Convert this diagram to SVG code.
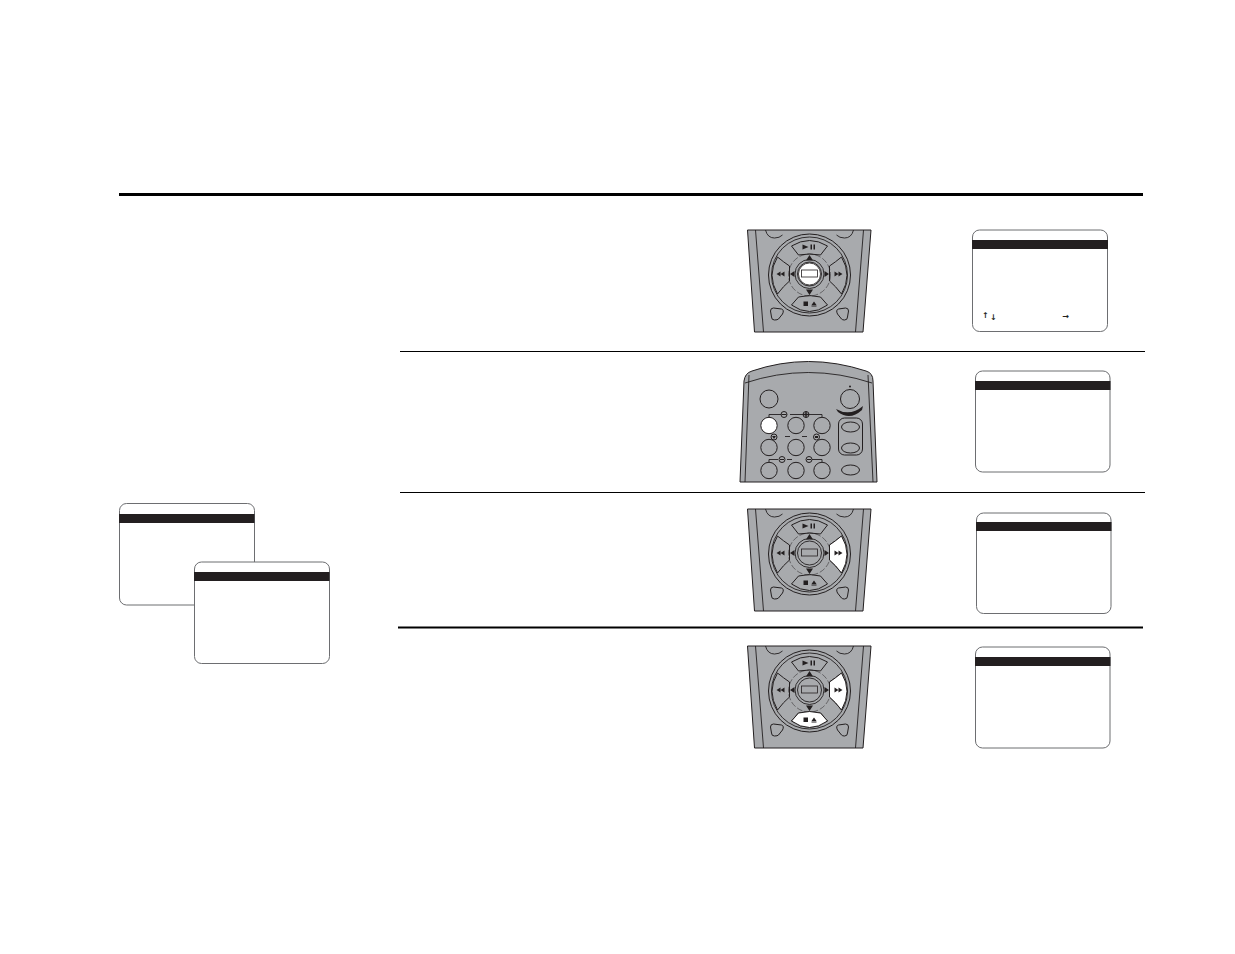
<svg xmlns="http://www.w3.org/2000/svg" width="1235" height="954" viewBox="0 0 1235 954">
<style>
.body{fill:#a8aaad;stroke:#231f20;stroke-width:1}
.ln{fill:none;stroke:#231f20;stroke-width:.9}
.btn{fill:#a8aaad;stroke:#231f20;stroke-width:1;stroke-linejoin:round}
.hi{fill:#fff;stroke:#231f20;stroke-width:1;stroke-linejoin:round}
.ink{fill:#231f20;stroke:none}
.dash{fill:none;stroke:#231f20;stroke-width:.5;stroke-dasharray:6 2}
.scr{fill:#fff;stroke:#6d6e71;stroke-width:1}
.bar{fill:#231f20}
.key{fill:#a8aaad;stroke:#231f20;stroke-width:1}
.rule{stroke:#000;fill:none}
.arw{font-family:"DejaVu Sans",sans-serif;font-size:8px;font-weight:bold;fill:#231f20}
</style>
<defs>
<path id="bR" d="M32,-16 Q43,2 32,21 Q26,13 20,8 L20,-7 Q26,-11 32,-16Z"/>
<path id="bB" d="M-11,24 Q0,21 11,24 L18,32 Q0,45 -18,32Z"/>
<path id="gFF" d="M33,1 L29,-1.500 V3.500Z M29,1 L25,-1.500 V3.500Z"/>
<path id="gSE" d="M-6,28.500 H-1.500 V33 H-6Z M2,32 L4.500,28.500 L7,32Z M2,32.600 H7 V33.500 H2Z"/>
<g id="pad">
<path class="body" d="M-62,-43 L61.500,-43 L53.500,59 L-55,59Z"/>
<path class="ln" d="M-54,-43 L-46,59 M54,-43 L46,59"/>
<path class="ln" d="M-44,-43 Q-42,-35 -35,-35 Q-30,-35 -27,-38 M44,-43 Q42,-35 35,-35 Q30,-35 27,-38"/>
<circle class="body" cy="2" r="41"/>
<circle class="ln" cy="2" r="38"/>
<path class="btn" d="M-18,-27 Q0,-38 18,-27 L11,-18 Q0,-20 -11,-18Z"/>
<path class="btn" d="M-32,-16 Q-43,2 -32,21 Q-26,13 -20,8 L-20,-7 Q-26,-11 -32,-16Z"/>
<use href="#bR" class="btn"/>
<use href="#bB" class="btn"/>
<circle class="dash" cy="2" r="21"/>
<circle class="ln" cy="1" r="14.500"/>
<circle class="ln" cy="1" r="12"/>
<path class="ink" d="M0,-18 L3.500,-12.500 L-3.500,-12.500Z M0,22 L3.500,16.500 L-3.500,16.500Z M-19.500,1 L-15,-2 L-15,4Z M19.500,1 L15,-2 L15,4Z"/>
<path class="ink" d="M-7,-28.500 L-1,-26 L-7,-23.500Z M1,-28.500 H2.500 V-23.500 H1Z M4,-28.500 H5.500 V-23.500 H4Z"/>
<path class="ink" d="M-33,1 L-29,-1.500 V3.500Z M-29,1 L-25,-1.500 V3.500Z"/>
<use href="#gFF" class="ink"/>
<use href="#gSE" class="ink"/>
<path class="btn" d="M-39,38 Q-39,35 -36,35 L-28,36 Q-25,37 -27,41 L-31,46 Q-32,47 -35,47 Q-38,47 -38,44Z"/>
<path class="btn" d="M39,38 Q39,35 36,35 L29,36 Q26,37 28,41 L32,46 Q33,47 35,47 Q38,47 38,44Z"/>
<rect x="-8" y="-3" width="16" height="7" fill="#a8aaad" stroke="#231f20" stroke-width=".8"/>
</g>
</defs>

<g id="rules">
<path class="rule" stroke-width="3" d="M119,194.500H1143"/>
<path class="rule" stroke-width="1" d="M400,351.500H1145"/>
<path class="rule" stroke-width="1" d="M400,492.500H1145"/>
<path class="rule" stroke-width="2" d="M398,627.500H1143"/>
</g>

<g id="screen-a"><rect class="scr" x="119.500" y="503.500" width="135" height="101.500" rx="7"/><rect class="bar" x="119" y="514" width="135.500" height="9"/></g>
<g id="screen-b"><rect class="scr" x="194.500" y="562" width="135" height="101.500" rx="7"/><rect class="bar" x="194" y="572" width="135.500" height="9"/></g>

<g id="panel-1">
<use href="#pad" x="809.500" y="273"/>
<circle cx="809.500" cy="274" r="11" fill="#fff" stroke="#231f20" stroke-width=".8"/>
<rect x="801.500" y="270" width="16" height="7" fill="#fff" stroke="#231f20" stroke-width=".8"/>
</g>
<g id="screen-1"><rect class="scr" x="972.500" y="230" width="135" height="101.500" rx="7"/><rect class="bar" x="972" y="240" width="136" height="9"/>
<text class="arw" x="982" y="318">↑</text><text class="arw" x="990" y="320">↓</text><text class="arw" x="1062.500" y="319">→</text></g>

<g id="panel-2">
<path class="body" d="M740,482 L744,381 Q745,373 752,371 Q808,352 866,371 Q873,373 873,381 L877,482Z"/>
<path class="ln" d="M745,383 Q808,362 872,383 M749,375 L745,482 M868,375 L873,482"/>
<g class="key">
<circle cx="769" cy="399" r="9"/>
<circle cx="850" cy="399" r="9.500"/>
<circle cx="769" cy="425.500" r="8.200" style="fill:#fff"/>
<circle cx="796" cy="425.500" r="8.200"/>
<circle cx="822" cy="425.500" r="8.200"/>
<circle cx="769" cy="447.500" r="8.200"/>
<circle cx="796" cy="447.500" r="8.200"/>
<circle cx="822" cy="447.500" r="8.200"/>
<circle cx="769" cy="470.500" r="8.200"/>
<circle cx="796" cy="470.500" r="8.200"/>
<circle cx="822" cy="470.500" r="8.200"/>
<rect x="838.500" y="418" width="24" height="37" rx="6"/>
<ellipse cx="850.500" cy="427" rx="9" ry="5"/>
<ellipse cx="850.500" cy="448" rx="9" ry="5"/>
<ellipse cx="850.500" cy="470" rx="9" ry="5"/>
</g>
<path class="ink" d="M836,409 Q850,417 863,406 L862,410 Q850,421 838,412Z"/>
<circle class="ink" cx="850" cy="386.500" r="1"/>
<path class="ln" d="M769,417 V414.500 H781 M790,414.500 H822 V417 M769,462 V459.500 H778 M787,459.500 H792 M806,459.500 H822 V462 M785,436.500 H790 M802,436.500 H807"/>
<circle class="key" cx="784" cy="414.500" r="3"/><circle class="key" cx="806" cy="414.500" r="3"/>
<circle class="key" cx="774" cy="437" r="3"/><circle class="key" cx="816.500" cy="437" r="3"/>
<circle class="key" cx="782" cy="459.500" r="3"/><circle class="key" cx="809" cy="459.500" r="3"/>
<path class="ink" d="M803,413.800H809V415.200H803Z M805.300,411.500H806.700V417.500H805.300Z M781.500,414H786.500V415H781.500Z M772,436 H776 L774,439Z M815,436 H818 V438 H815Z M780,459H784V460H780Z M807,459H811V460H807Z"/>
</g>
<g id="screen-2"><rect class="scr" x="975.500" y="371" width="134.500" height="101" rx="7"/><rect class="bar" x="975" y="381" width="135.500" height="9"/></g>

<g id="panel-3">
<use href="#pad" x="809.500" y="552"/>
<use href="#bR" class="hi" x="809.500" y="552"/>
<use href="#gFF" class="ink" x="809.500" y="552"/>
</g>
<g id="screen-3"><rect class="scr" x="976.500" y="513" width="134.500" height="100.500" rx="7"/><rect class="bar" x="976" y="522" width="135.500" height="9"/></g>

<g id="panel-4">
<use href="#pad" x="809.500" y="689"/>
<use href="#bR" class="hi" x="809.500" y="689"/>
<use href="#bB" class="hi" x="809.500" y="689"/>
<use href="#gFF" class="ink" x="809.500" y="689"/>
<use href="#gSE" class="ink" x="809.500" y="689"/>
</g>
<g id="screen-4"><rect class="scr" x="975.500" y="647" width="134.500" height="101" rx="7"/><rect class="bar" x="975" y="657" width="135.500" height="9"/></g>
</svg>
